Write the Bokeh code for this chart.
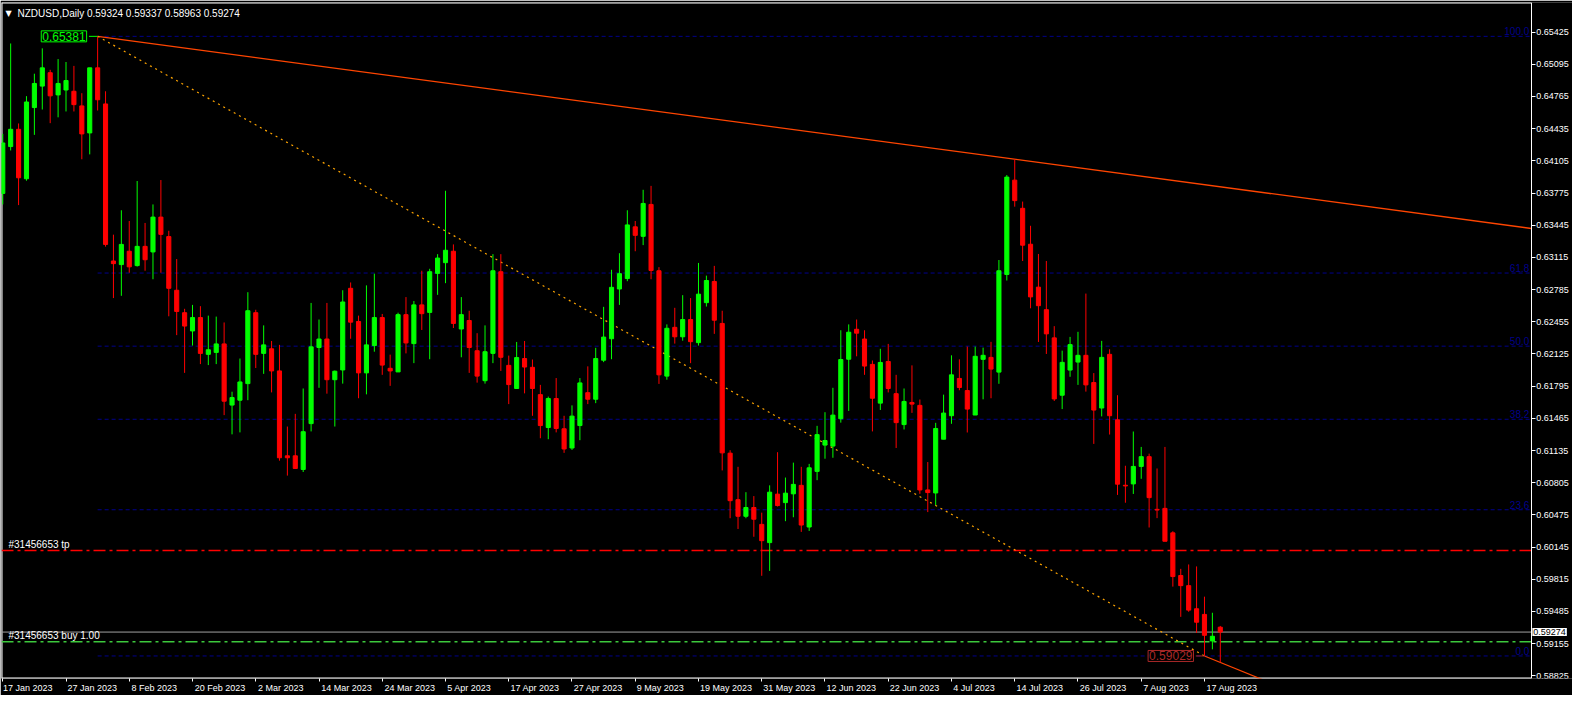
from bokeh.plotting import figure
from bokeh.models import FixedTicker, PrintfTickFormatter, Label, ColumnDataSource, LinearAxis
from bokeh.embed import file_html
from bokeh.resources import INLINE
from bokeh.core.properties import value

# ---------------- data ----------------
symbol = "NZDUSD,Daily"
header_ohlc = "0.59324 0.59337 0.58963 0.59274"

opens = [0.63771, 0.64251, 0.64428, 0.63921, 0.64651, 0.64871, 0.65008, 0.64781, 0.64831, 0.64818,
         0.64668, 0.64391, 0.65058, 0.64688, 0.63078, 0.63041, 0.63178, 0.63031, 0.63228, 0.63171,
         0.63528, 0.63328, 0.62778, 0.62548, 0.62361, 0.62498, 0.62121, 0.62141, 0.62228, 0.61601,
         0.61651, 0.61821, 0.62548, 0.62131, 0.62178, 0.61951, 0.61081, 0.61081, 0.60941, 0.61411,
         0.62191, 0.62278, 0.61861, 0.61961, 0.62798, 0.62458, 0.61931, 0.62211, 0.62498, 0.61978,
         0.61941, 0.62528, 0.62231, 0.62628, 0.62551, 0.62951, 0.63061, 0.63178, 0.62381, 0.62468,
         0.62158, 0.61851, 0.62131, 0.62968, 0.62008, 0.61771, 0.62078, 0.61988, 0.61708, 0.61371,
         0.61668, 0.61358, 0.61161, 0.61391, 0.61728, 0.61661, 0.62061, 0.62281, 0.62791, 0.62898,
         0.63428, 0.63331, 0.63658, 0.62978, 0.61898, 0.62398, 0.62301, 0.62478, 0.62241, 0.62651,
         0.62868, 0.62438, 0.61108, 0.60631, 0.60461, 0.60551, 0.60378, 0.60191, 0.60688, 0.60601,
         0.60691, 0.60778, 0.60351, 0.60921, 0.61191, 0.61181, 0.61461, 0.62071, 0.62378, 0.62278,
         0.62018, 0.61621, 0.62048, 0.61718, 0.61401, 0.61628, 0.61598, 0.60731, 0.60700, 0.61251,
         0.61492, 0.61874, 0.61750, 0.61499, 0.62070, 0.62090, 0.61939, 0.62940, 0.63907, 0.63618,
         0.63250, 0.62810, 0.62579, 0.62290, 0.61702, 0.61960, 0.62042, 0.62111, 0.61832, 0.61571,
         0.62121, 0.61450, 0.60779, 0.60793, 0.60972, 0.61072, 0.60532, 0.60542, 0.60291, 0.59854,
         0.59750, 0.59513, 0.59455, 0.59183, 0.59324]

highs = [0.64381, 0.65308, 0.64488, 0.64768, 0.64998, 0.65258, 0.65038, 0.65148, 0.65118, 0.65078,
         0.64798, 0.65058, 0.65381, 0.64818, 0.63348, 0.63598, 0.63488, 0.63898, 0.63468, 0.63658,
         0.63908, 0.63388, 0.63098, 0.62588, 0.62628, 0.62615, 0.62518, 0.62508, 0.62448, 0.61738,
         0.62078, 0.62758, 0.62578, 0.62418, 0.62258, 0.62218, 0.61381, 0.61511, 0.61771, 0.62648,
         0.62478, 0.62648, 0.61955, 0.62778, 0.62858, 0.62518, 0.62828, 0.62948, 0.62535, 0.62118,
         0.62548, 0.62708, 0.62668, 0.62978, 0.62998, 0.63148, 0.63798, 0.63248, 0.62708, 0.62568,
         0.62338, 0.62418, 0.63148, 0.63148, 0.62108, 0.62248, 0.62258, 0.62068, 0.61808, 0.61688,
         0.61878, 0.61491, 0.61598, 0.61878, 0.61998, 0.62188, 0.62608, 0.62988, 0.63158, 0.63598,
         0.63488, 0.63808, 0.63848, 0.63015, 0.62428, 0.62598, 0.62728, 0.62698, 0.63058, 0.62928,
         0.63028, 0.62568, 0.61138, 0.60968, 0.60708, 0.60668, 0.60498, 0.60778, 0.61118, 0.60858,
         0.61011, 0.60968, 0.60998, 0.61388, 0.61528, 0.61778, 0.62368, 0.62428, 0.62478, 0.62368,
         0.62058, 0.62178, 0.62228, 0.61911, 0.61771, 0.62008, 0.61658, 0.61017, 0.61419, 0.61708,
         0.62111, 0.62070, 0.62201, 0.62201, 0.62190, 0.62249, 0.63088, 0.63959, 0.64121, 0.63687,
         0.63439, 0.63150, 0.63078, 0.62410, 0.62159, 0.62300, 0.62352, 0.62744, 0.61929, 0.62259,
         0.62173, 0.61702, 0.60979, 0.61330, 0.61172, 0.61103, 0.60951, 0.61172, 0.60308, 0.59922,
         0.59967, 0.59947, 0.59637, 0.59472, 0.59337]

lows = [0.63658, 0.64211, 0.63651, 0.63901, 0.64371, 0.64631, 0.64491, 0.64551, 0.64611, 0.64611,
        0.64121, 0.64171, 0.64621, 0.63225, 0.62698, 0.62721, 0.62958, 0.63021, 0.62978, 0.62891,
        0.62958, 0.62511, 0.62318, 0.61931, 0.62211, 0.62021, 0.62011, 0.62021, 0.61498, 0.61301,
        0.61321, 0.61651, 0.61981, 0.61921, 0.61731, 0.61031, 0.60878, 0.60948, 0.60915, 0.61331,
        0.61778, 0.61718, 0.61381, 0.61821, 0.62281, 0.61671, 0.61711, 0.62148, 0.61911, 0.61798,
        0.61941, 0.62131, 0.62031, 0.62371, 0.62071, 0.62731, 0.62851, 0.62391, 0.62091, 0.61931,
        0.61831, 0.61821, 0.62031, 0.61951, 0.61611, 0.61771, 0.61721, 0.61491, 0.61261, 0.61251,
        0.61321, 0.61111, 0.61141, 0.61241, 0.61611, 0.61621, 0.62041, 0.62071, 0.62628, 0.62871,
        0.63178, 0.63241, 0.62891, 0.61818, 0.61861, 0.62231, 0.62261, 0.62031, 0.62211, 0.62611,
        0.62331, 0.60931, 0.60441, 0.60331, 0.60441, 0.60251, 0.59851, 0.59901, 0.60561, 0.60411,
        0.60451, 0.60301, 0.60311, 0.60831, 0.61051, 0.61061, 0.61421, 0.61541, 0.62101, 0.61911,
        0.61331, 0.61551, 0.61731, 0.61161, 0.61351, 0.61521, 0.60691, 0.60504, 0.60576, 0.61251,
        0.61409, 0.61753, 0.61320, 0.61499, 0.61660, 0.61671, 0.61819, 0.62878, 0.63635, 0.63078,
        0.62593, 0.62248, 0.62125, 0.61643, 0.61560, 0.61891, 0.61808, 0.61739, 0.61203, 0.61485,
        0.61299, 0.60680, 0.60600, 0.60690, 0.60845, 0.60346, 0.60442, 0.60205, 0.59740, 0.59430,
        0.59482, 0.59265, 0.59029, 0.59097, 0.58963]

closes = [0.64288, 0.64428, 0.63931, 0.64708, 0.64898, 0.65058, 0.64771, 0.64898, 0.64928, 0.64681,
          0.64381, 0.65058, 0.64731, 0.63248, 0.63051, 0.63248, 0.63018, 0.63228, 0.63091, 0.63528,
          0.63351, 0.62798, 0.62561, 0.62411, 0.62498, 0.62131, 0.62168, 0.62228, 0.61641, 0.61678,
          0.61838, 0.62568, 0.62121, 0.62218, 0.61951, 0.61061, 0.61061, 0.60951, 0.61328, 0.62198,
          0.62278, 0.61861, 0.61948, 0.62658, 0.62451, 0.61931, 0.62218, 0.62498, 0.62011, 0.61951,
          0.62528, 0.62238, 0.62628, 0.62538, 0.62968, 0.63108, 0.63188, 0.62438, 0.62528, 0.62191,
          0.61898, 0.62148, 0.62978, 0.62091, 0.61811, 0.62088, 0.61991, 0.61771, 0.61391, 0.61668,
          0.61361, 0.61151, 0.61488, 0.61828, 0.61661, 0.62078, 0.62298, 0.62808, 0.62948, 0.63448,
          0.63341, 0.63668, 0.62981, 0.61911, 0.62388, 0.62301, 0.62478, 0.62251, 0.62738, 0.62878,
          0.62471, 0.61111, 0.60621, 0.60461, 0.60551, 0.60431, 0.60211, 0.60708, 0.60571, 0.60698,
          0.60788, 0.60371, 0.60958, 0.61298, 0.61238, 0.61498, 0.62068, 0.62348, 0.62338, 0.62001,
          0.61671, 0.62038, 0.61771, 0.61421, 0.61638, 0.61611, 0.60731, 0.60704, 0.61361, 0.61519,
          0.61911, 0.61781, 0.61560, 0.62101, 0.62111, 0.61970, 0.62978, 0.63938, 0.63697, 0.63240,
          0.62710, 0.62620, 0.62331, 0.61664, 0.62039, 0.62221, 0.62111, 0.61808, 0.61550, 0.62090,
          0.61492, 0.60790, 0.60772, 0.60972, 0.61072, 0.60652, 0.60525, 0.60205, 0.59843, 0.59750,
          0.59499, 0.59375, 0.59241, 0.59231, 0.59274]

date_ticks = [0, 8, 16, 24, 32, 40, 48, 56, 64, 72, 80, 88, 96, 104, 112, 120, 128, 136, 144, 152]
date_labels = ["17 Jan 2023", "27 Jan 2023", "8 Feb 2023", "20 Feb 2023", "2 Mar 2023",
               "14 Mar 2023", "24 Mar 2023", "5 Apr 2023", "17 Apr 2023", "27 Apr 2023",
               "9 May 2023", "19 May 2023", "31 May 2023", "12 Jun 2023", "22 Jun 2023",
               "4 Jul 2023", "14 Jul 2023", "26 Jul 2023", "7 Aug 2023", "17 Aug 2023"]

price_ticks = [0.65425, 0.65095, 0.64765, 0.64435, 0.64105, 0.63775, 0.63445, 0.63115, 0.62785,
               0.62455, 0.62125, 0.61795, 0.61465, 0.61135, 0.60805, 0.60475, 0.60145, 0.59815,
               0.59485, 0.59155, 0.58825]

fib_ratios = [100.0, 61.8, 50.0, 38.2, 23.6, 0.0]
fib_labels = ["100.0", "61.8", "50.0", "38.2", "23.6", "0.0"]

swing_high_idx, swing_high = 12, 0.65381
touch_idx, touch_high = 128, 0.64121
swing_low_idx, swing_low = 152, 0.59029
last_idx, last_low = 154, 0.58963

order_id = "#31456653"
tp_price = 0.60110
buy_price = 0.59175
bid_price = 0.59274

# view window (bar index / price)
x_start, x_axis, x_end = -0.16, 193.34, 198.55
y_start, y_end = 0.58798, 0.65728

# ---------------- styles ----------------
BULL = "#00FF00"
BEAR = "#FF0000"
FIB = "#00008B"
FONT = "Liberation Sans"
AX_SIZE = 9

# Liberation Sans advance widths (em) – used to left-align date labels after their tick
CHAR_W = {" ": 0.278, "\u00a0": 0.278, "J": 0.5, "F": 0.611, "M": 0.833, "A": 0.667,
          "a": 0.556, "n": 0.556, "e": 0.556, "b": 0.556, "r": 0.333, "p": 0.556,
          "y": 0.5, "u": 0.556, "l": 0.222, "g": 0.556}


def text_width(s, size):
    return sum(CHAR_W.get(ch, 0.556) for ch in s) * size


def left_aligned(s, size, gap=4):
    pad = int(round((text_width(s, size) + gap) / (0.278 * size)))
    return "\u00a0" * pad + s


n = len(opens)
idx = list(range(n))
colors = [BULL if c >= o else BEAR for o, c in zip(opens, closes)]
src = ColumnDataSource(dict(
    x=idx, o=opens, h=highs, l=lows, c=closes,
    top=[max(o, c) for o, c in zip(opens, closes)],
    bot=[min(o, c) for o, c in zip(opens, closes)],
    col=colors))

p = figure(width=1572, height=695, x_range=(x_start, x_end), y_range=(y_start, y_end),
           output_backend="svg", toolbar_location=None, y_axis_location=None,
           background_fill_color="black", border_fill_color="black",
           min_border_left=1, min_border_top=2, min_border_right=0, min_border_bottom=16,
           outline_line_color=None)
p.grid.visible = False

# price axis, drawn at the right edge of the chart area
ya = LinearAxis(fixed_location=x_axis)
ya.ticker = FixedTicker(ticks=price_ticks)
ya.formatter = PrintfTickFormatter(format="%.5f")
ya.axis_line_color = "white"
ya.major_tick_line_color = "white"
ya.major_tick_out = 4
ya.major_tick_in = 0
ya.minor_tick_line_color = None
ya.major_label_text_color = "white"
ya.major_label_text_font = FONT
ya.major_label_text_font_size = f"{AX_SIZE}px"
ya.major_label_standoff = 1
p.add_layout(ya, "right")

# time axis (labels start just right of their tick, as in the terminal)
date_texts = ["\u00a0" + date_labels[0]] + [left_aligned(s, AX_SIZE) for s in date_labels[1:]]
xa = p.xaxis[0]
xa.ticker = FixedTicker(ticks=date_ticks)
xa.major_label_overrides = {t: s for t, s in zip(date_ticks, date_texts)}
xa.axis_line_color = None
xa.major_tick_line_color = "white"
xa.major_tick_out = 3
xa.major_tick_in = 0
xa.minor_tick_line_color = None
xa.major_label_text_color = "white"
xa.major_label_text_font = FONT
xa.major_label_text_font_size = f"{AX_SIZE}px"
xa.major_label_standoff = 1

# chart borders (left, top, bottom)
p.segment(x0=[x_start, x_start, x_start], y0=[y_start, y_end, y_start],
          x1=[x_start, x_axis, x_axis], y1=[y_end, y_end, y_start],
          line_color="white", line_width=2)

# fibonacci levels
rng = swing_high - swing_low
fib_prices = [swing_low + r / 100.0 * rng for r in fib_ratios]
p.segment(x0=[swing_high_idx] * len(fib_prices), y0=fib_prices,
          x1=[x_axis] * len(fib_prices), y1=fib_prices,
          line_color=FIB, line_width=1, line_dash="4 3")
p.text(x=[x_axis - 0.25] * len(fib_prices), y=fib_prices, text=fib_labels,
       text_align="right", text_baseline="bottom", text_color=FIB,
       text_font=value(FONT), text_font_size="10px", y_offset=-1)

# order lines
p.segment(x0=[x_start], y0=[tp_price], x1=[x_axis], y1=[tp_price],
          line_color="#FF0000", line_width=1.5, line_dash="12 4 3 4")
p.segment(x0=[x_start], y0=[bid_price], x1=[x_axis], y1=[bid_price],
          line_color="#A0A0A0", line_width=1)
p.segment(x0=[x_start], y0=[buy_price], x1=[x_axis], y1=[buy_price],
          line_color="#3CC83C", line_width=1.5, line_dash="12 4 3 4")
p.add_layout(Label(x=x_start, y=tp_price, x_offset=7, y_offset=1, text=order_id + " tp",
                   text_color="white", text_font=FONT, text_font_size="10px",
                   text_baseline="bottom"))
p.add_layout(Label(x=x_start, y=buy_price, x_offset=7, y_offset=1, text=order_id + " buy 1.00",
                   text_color="white", text_font=FONT, text_font_size="10px",
                   text_baseline="bottom"))

# trend lines
slope = (touch_high - swing_high) / (touch_idx - swing_high_idx)
p.line(x=[swing_high_idx, x_axis], y=[swing_high, swing_high + slope * (x_axis - swing_high_idx)],
       line_color="#FF4500", line_width=1.3)
p.line(x=[swing_high_idx, swing_low_idx], y=[swing_high, swing_low],
       line_color="#FFA500", line_width=1.2, line_dash="2 4")
slope2 = (last_low - swing_low) / (last_idx - swing_low_idx)
p.line(x=[swing_low_idx, swing_low_idx + 12], y=[swing_low, swing_low + slope2 * 12],
       line_color="#FF4500", line_width=1.2)

# candles
p.segment(x0="x", y0="l", x1="x", y1="h", line_color="col", line_width=1, source=src)
p.vbar(x="x", width=0.52, top="top", bottom="bot", fill_color="col", line_color="col",
       line_width=1, source=src)

# price boxes at swing points
p.segment(x0=[swing_high_idx - 1.1], y0=[swing_high], x1=[swing_high_idx], y1=[swing_high],
          line_color=BULL, line_width=1)
p.add_layout(Label(x=swing_high_idx, y=swing_high, x_offset=-11, text=f"{swing_high:.5f}",
                   text_align="right", text_baseline="middle", text_color=BULL,
                   text_font=FONT, text_font_size="12px", background_fill_color="black",
                   border_line_color=BULL, border_line_width=1, padding=1))
p.segment(x0=[swing_low_idx - 1.1], y0=[swing_low], x1=[swing_low_idx], y1=[swing_low],
          line_color="#AA2828", line_width=1)
p.add_layout(Label(x=swing_low_idx, y=swing_low, x_offset=-11, text=f"{swing_low:.5f}",
                   text_align="right", text_baseline="middle", text_color="#AA2828",
                   text_font=FONT, text_font_size="12px", background_fill_color="black",
                   border_line_color="#AA2828", border_line_width=1, padding=1))

# header
p.add_layout(Label(x=x_start, y=y_end, x_offset=4, y_offset=-11, text="\u25bc",
                   text_color="white", text_font="DejaVu Sans", text_font_size="8px",
                   text_baseline="middle"))
p.add_layout(Label(x=x_start, y=y_end, x_offset=16, y_offset=-11,
                   text=symbol + "  " + header_ohlc,
                   text_color="white", text_font=FONT, text_font_size="10px",
                   text_baseline="middle"))

# current bid price tag on the price axis
p.add_layout(Label(x=x_axis, y=bid_price, x_offset=1, text=f"{bid_price:.5f}",
                   text_align="left", text_baseline="middle", text_color="black",
                   text_font=FONT, text_font_size=f"{AX_SIZE}px", background_fill_color="white",
                   padding=1))

open("out.html", "w").write(file_html(p, INLINE))
